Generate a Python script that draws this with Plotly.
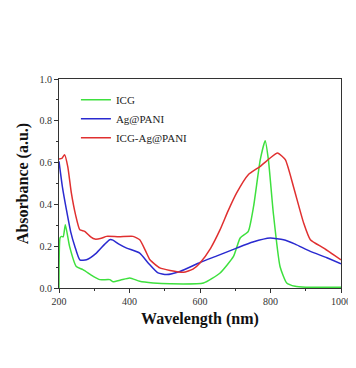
import plotly.graph_objects as go

# ICG
icg_wl = [200, 203, 207, 212, 218, 230, 249, 268, 297, 316, 344, 353, 375, 401, 429, 467, 515, 610, 657, 695, 714, 737, 752, 771, 785, 794, 808, 827, 846, 870, 900, 1000]
icg_abs = [0.0, 0.24, 0.247, 0.245, 0.303, 0.199, 0.103, 0.088, 0.056, 0.04, 0.04, 0.03, 0.038, 0.048, 0.032, 0.024, 0.02, 0.024, 0.072, 0.151, 0.239, 0.271, 0.39, 0.614, 0.705, 0.614, 0.359, 0.103, 0.024, 0.008, 0.004, 0.003]

# Ag@PANI
ag_wl = [200, 210, 221, 233, 245, 259, 278, 306, 330, 344, 353, 370, 392, 429, 453, 481, 505, 543, 600, 650, 704, 750, 799, 837, 870, 913, 960, 1000]
ag_abs = [0.606, 0.48, 0.375, 0.27, 0.199, 0.135, 0.135, 0.167, 0.21, 0.231, 0.229, 0.21, 0.191, 0.167, 0.12, 0.072, 0.064, 0.079, 0.122, 0.155, 0.191, 0.22, 0.239, 0.231, 0.21, 0.175, 0.145, 0.116]

# ICG-Ag@PANI
mix_wl = [200, 208, 216, 225, 235, 247, 259, 273, 290, 302, 320, 335, 370, 410, 429, 445, 458, 486, 515, 553, 580, 600, 630, 657, 680, 704, 737, 771, 799, 820, 842, 865, 894, 913, 951, 1000]
mix_abs = [0.617, 0.62, 0.638, 0.58, 0.455, 0.35, 0.279, 0.271, 0.245, 0.234, 0.238, 0.247, 0.245, 0.247, 0.231, 0.18, 0.135, 0.096, 0.084, 0.075, 0.09, 0.12, 0.19, 0.279, 0.37, 0.455, 0.542, 0.582, 0.622, 0.646, 0.614, 0.486, 0.311, 0.231, 0.191, 0.135]

x_ticks = [200, 400, 600, 800, 1000]
y_ticks = [0.0, 0.2, 0.4, 0.6, 0.8, 1.0]
y_tick_labels = ["0.0", "0.2", "0.4", "0.6", "0.8", "1.0"]

font = "Liberation Serif"

fig = go.Figure()
fig.add_trace(go.Scatter(x=icg_wl, y=icg_abs, name="ICG", mode="lines",
                         line=dict(color="#3ee03e", width=1.5, shape="spline", smoothing=0.5)))
fig.add_trace(go.Scatter(x=ag_wl, y=ag_abs, name="Ag@PANI", mode="lines",
                         line=dict(color="#2a2ad0", width=1.5, shape="spline", smoothing=0.5)))
fig.add_trace(go.Scatter(x=mix_wl, y=mix_abs, name="ICG-Ag@PANI", mode="lines",
                         line=dict(color="#e03030", width=1.5, shape="spline", smoothing=0.5)))

axis_common = dict(showline=True, linecolor="#333", linewidth=1, mirror=True, automargin=False,
                   ticks="outside", ticklen=4, tickcolor="#333", showgrid=False, zeroline=False,
                   ticklabeloverflow="allow",
                   tickfont=dict(family=font, size=10, color="#333"))

fig.update_xaxes(range=[200, 1000], tickvals=x_ticks,
                 minor=dict(ticks="outside", ticklen=2, dtick=100, tickcolor="#333"),
                 title=dict(text="<b>Wavelength (nm)</b>", font=dict(family=font, size=16, color="#111"), standoff=6),
                 **axis_common)
fig.update_yaxes(range=[0, 1.0], tickvals=y_ticks, ticktext=y_tick_labels,
                 minor=dict(ticks="outside", ticklen=2, dtick=0.1, tickcolor="#333"),
                 title=dict(text="<b>Absorbance (a.u.)</b>", font=dict(family=font, size=16, color="#111"), standoff=6),
                 **axis_common)

fig.update_layout(
    width=348, height=352,
    margin=dict(l=51, r=15, t=71, b=72),
    paper_bgcolor="white", plot_bgcolor="white",
    showlegend=True,
    legend=dict(x=0.06, y=0.97, xanchor="left", yanchor="top", bgcolor="rgba(0,0,0,0)",
                font=dict(family=font, size=11, color="#222"), itemwidth=30, tracegroupgap=0),
)

fig.write_html("out.html")
